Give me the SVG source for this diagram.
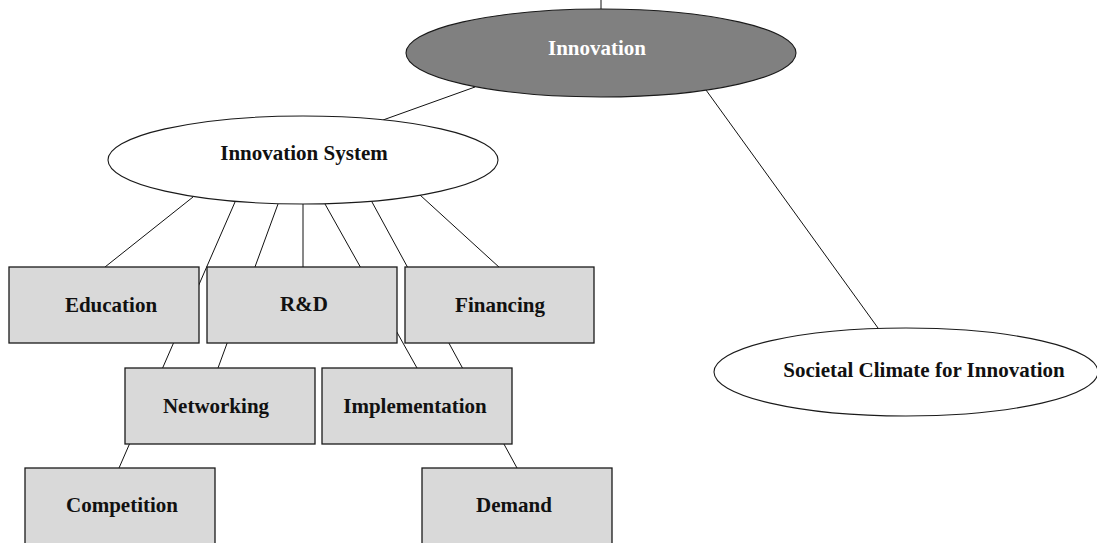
<svg xmlns="http://www.w3.org/2000/svg" width="1097" height="543" viewBox="0 0 1097 543">
<style>
.box{fill:#d9d9d9;stroke:#1a1a1a;stroke-width:1.3}
.ell{fill:#ffffff;stroke:#1a1a1a;stroke-width:1.1}
.lbl{font-family:"Liberation Serif","Times New Roman",serif;font-weight:bold;font-size:21px;fill:#111;text-anchor:middle}
.conn line{stroke:#111;stroke-width:1}
</style>
<rect width="1097" height="543" fill="#ffffff"/>
<g id="connectors" class="conn">
<line x1="601" y1="0" x2="601" y2="10"/>
<line x1="475" y1="87" x2="383" y2="120"/>
<line x1="706" y1="90" x2="878" y2="328"/>
<line x1="193" y1="197" x2="105" y2="267"/>
<line x1="235" y1="202" x2="119" y2="468"/>
<line x1="278" y1="204" x2="218" y2="368"/>
<line x1="303" y1="204" x2="303" y2="267"/>
<line x1="325" y1="204" x2="417" y2="368"/>
<line x1="372" y1="202" x2="517" y2="468"/>
<line x1="420" y1="195" x2="500" y2="268"/>
</g>
<g id="innovation">
<ellipse cx="601" cy="53" rx="195" ry="44" fill="#808080" stroke="#1a1a1a" stroke-width="1.1"/>
<text class="lbl" x="597" y="55" style="fill:#ffffff">Innovation</text>
</g>
<g id="innovation-system">
<ellipse class="ell" cx="303" cy="160" rx="195" ry="44"/>
<text class="lbl" x="304" y="160">Innovation System</text>
</g>
<g id="societal-climate">
<ellipse class="ell" cx="906" cy="372" rx="192" ry="44"/>
<text class="lbl" x="924" y="377">Societal Climate for Innovation</text>
</g>
<g id="education">
<rect class="box" x="9" y="267" width="190" height="76"/>
<text class="lbl" x="111" y="312">Education</text>
</g>
<g id="rd">
<rect class="box" x="207" y="267" width="190" height="76"/>
<text class="lbl" x="304" y="311">R&amp;D</text>
</g>
<g id="financing">
<rect class="box" x="405" y="267" width="189" height="76"/>
<text class="lbl" x="500" y="312">Financing</text>
</g>
<g id="networking">
<rect class="box" x="125" y="368" width="190" height="76"/>
<text class="lbl" x="216" y="413">Networking</text>
</g>
<g id="implementation">
<rect class="box" x="322" y="368" width="190" height="76"/>
<text class="lbl" x="415" y="413">Implementation</text>
</g>
<g id="competition">
<rect class="box" x="25" y="468" width="190" height="80"/>
<text class="lbl" x="122" y="512">Competition</text>
</g>
<g id="demand">
<rect class="box" x="422" y="468" width="190" height="80"/>
<text class="lbl" x="514" y="512">Demand</text>
</g>
</svg>
